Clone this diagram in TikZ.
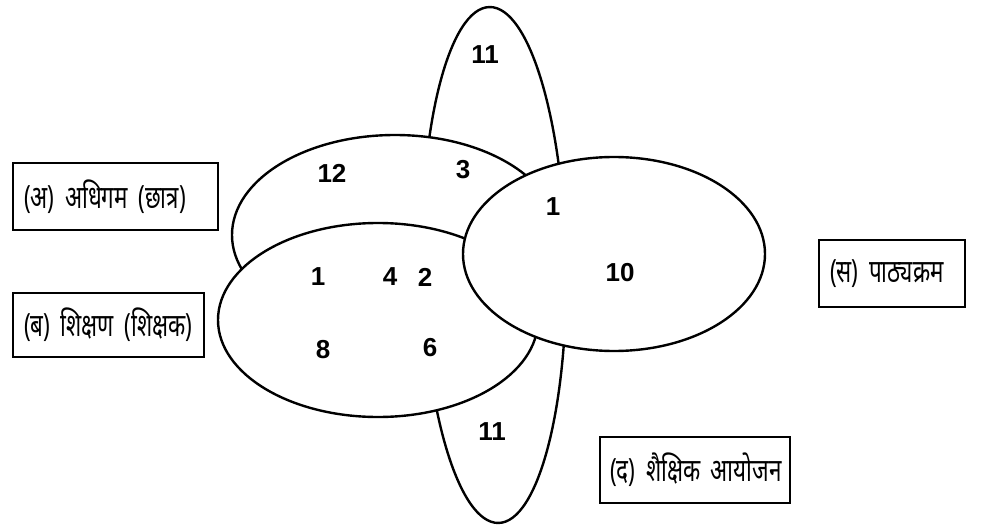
\documentclass[tikz,border=0pt]{standalone}
\usepackage{fontspec}
\setmainfont{Liberation Sans}
\newfontfamily\hindi[Script=Devanagari,FakeStretch=0.7,WordSpace=0.7]{Noto Sans}
\usetikzlibrary{shapes.geometric,positioning}

\begin{document}
\begin{tikzpicture}[x=1pt,y=-1pt,
    oval/.style={ellipse, draw, fill=white, line width=2.4pt, inner sep=0pt},
    num/.style={font=\fontsize{26}{26}\selectfont\bfseries},
    tag/.style={draw, line width=1.8pt, inner xsep=11pt, inner ysep=0pt, align=left,
        font=\hindi\fontsize{32}{32}\selectfont}]
    \useasboundingbox (0,0) rectangle (991,527);
    % ellipses, back to front
    \node[oval, minimum width=144, minimum height=516, rotate=1] (ayojan) at (494,265) {};
    \node[oval, minimum width=326, minimum height=200] (adhigam) at (395,235) {};
    \node[oval, minimum width=320, minimum height=194] (shikshan) at (378,320) {};
    \node[oval, minimum width=302, minimum height=194] (pathya) at (614,254) {};
    % counts
    \node[num] (nTop) at (485,55) {11};
    \node[num] (nA) at (332,173) {12};
    \node[num] (nAS) at (463,170) {3};
    \node[num] (nAC) at (553,207) {1};
    \node[num] (nB) at (318,277) {1};
    \node[num] (nBa) at (390,277) {4};
    \node[num] (nBb) at (425,277) {2};
    \node[num] (nBc) at (323,350) {8};
    \node[num] (nBd) at (430,348) {6};
    \node[num] (nC) at (620,273) {10};
    \node[num] (nBot) at (492,432) {11};
    % labels
    \node[tag, text width=183, minimum height=67] (tagA) at (115.5,196.5) {\mbox{(अ) अधिगम (छात्र)}};
    \node[tag, text width=169, minimum height=64] (tagB) at (108.5,325) {\mbox{(ब) शिक्षण (शिक्षक)}};
    \node[tag, text width=124, minimum height=67] (tagC) at (892,273.5) {\mbox{(स) पाठ्यक्रम}};
    \node[tag, text width=170, minimum height=66, inner xsep=10pt] (tagD) at (695,470) {\mbox{(द) शैक्षिक आयोजन}};
\end{tikzpicture}
\end{document}
